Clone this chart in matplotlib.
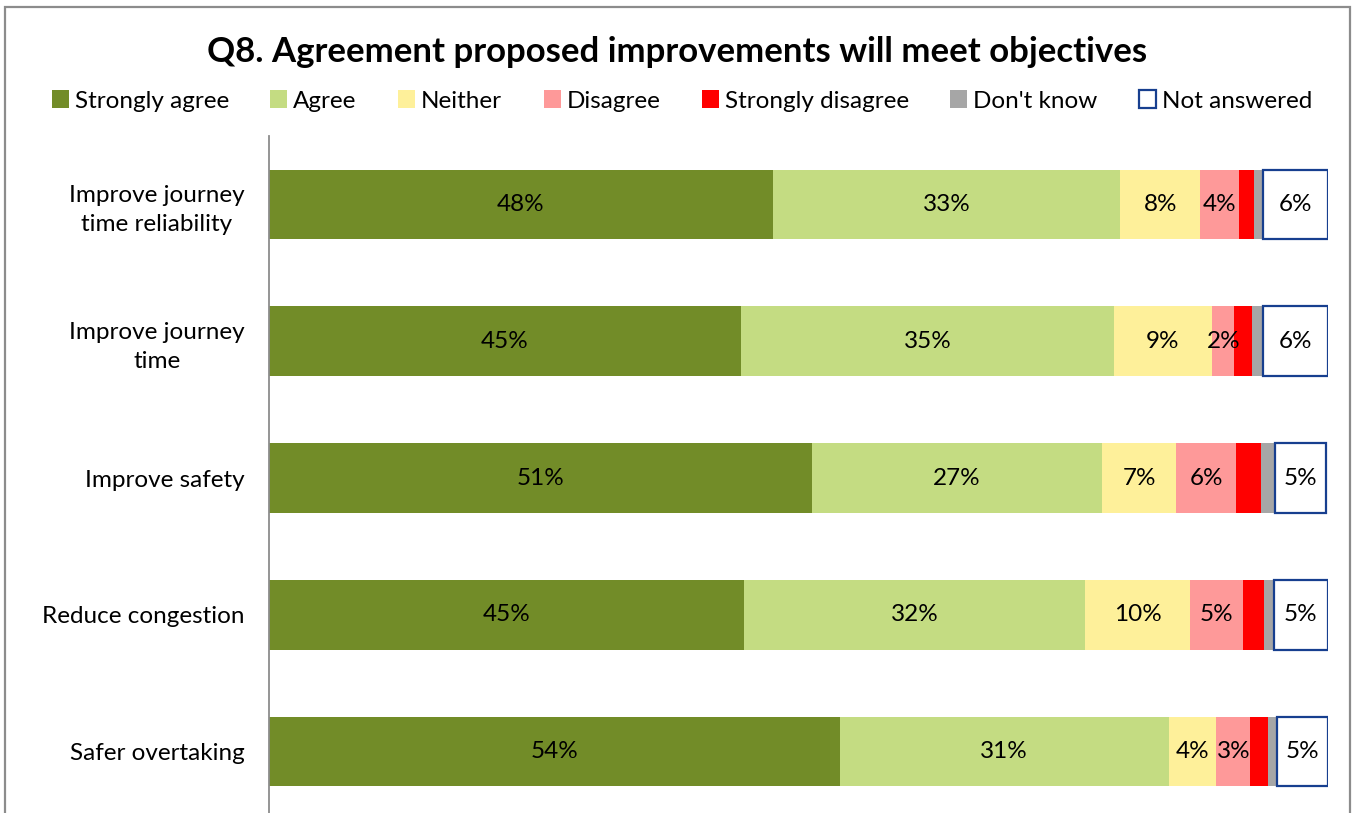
import matplotlib.pyplot as plt
from matplotlib.patches import Rectangle

plt.rcParams['font.family'] = ['Lato', 'DejaVu Sans']

# survey responses, percent of respondents
categories = ['Improve journey\ntime reliability', 'Improve journey\ntime',
              'Improve safety', 'Reduce congestion', 'Safer overtaking']
strongly_agree = [47.6, 44.6, 51.3, 44.9, 53.9]
agree = [32.8, 35.2, 27.4, 32.2, 31.1]
neither = [7.6, 9.3, 7.0, 9.9, 4.5]
disagree = [3.6, 2.1, 5.7, 5.0, 3.2]
strongly_disagree = [1.5, 1.7, 2.3, 2.0, 1.7]
dont_know = [0.8, 1.0, 1.3, 0.9, 0.8]
not_answered = [6.1, 6.1, 4.9, 5.1, 4.8]

series = [
    ('Strongly agree', strongly_agree, '#728C28', True),
    ('Agree', agree, '#C4DC82', True),
    ('Neither', neither, '#FEF09A', True),
    ('Disagree', disagree, '#FE9999', True),
    ('Strongly disagree', strongly_disagree, '#FF0000', False),
    ("Don't know", dont_know, '#A6A6A6', False),
    ('Not answered', not_answered, 'white', True),
]

W, H = 1354, 813
fig = plt.figure(figsize=(W / 100, H / 100), dpi=100)
ax = fig.add_axes([269 / W, -7 / H, (1327.5 - 269) / W, (820 - 136) / H])

ypos = list(range(len(categories)))
left = [0.0] * len(categories)
handles = []
for name, vals, color, show_label in series:
    if name == 'Not answered':
        bars = ax.barh(ypos, vals, left=left, height=0.51, color=color,
                       edgecolor='#173F8F', linewidth=1.6, label=name)
    else:
        bars = ax.barh(ypos, vals, left=left, height=0.51, color=color,
                       linewidth=0, label=name)
    if show_label:
        ax.bar_label(bars, labels=[f'{v:.0f}%' for v in vals],
                     label_type='center', fontsize=17.5, color='black')
    handles.append(bars)
    left = [l + v for l, v in zip(left, vals)]

ax.set_xlim(0, 100)
ax.set_ylim(len(categories) - 0.5, -0.5)
ax.set_yticks(ypos)
ax.set_yticklabels(categories, fontsize=17.5, multialignment='center',
                   linespacing=1.45)
ax.tick_params(axis='y', length=0, pad=17.5)
ax.set_xticks([])
for side in ['top', 'right', 'bottom']:
    ax.spines[side].set_visible(False)
ax.spines['left'].set_color('#8C8C8C')
ax.spines['left'].set_linewidth(1.3)

fig.text(0.5, 1 - 52 / H, 'Q8. Agreement proposed improvements will meet objectives',
         ha='center', va='center', fontsize=25, fontweight='bold')

leg = fig.legend(handles=handles, loc='center', bbox_to_anchor=(682 / W, 1 - 101 / H),
                 ncol=7, frameon=False, fontsize=17.5, handlelength=0.7,
                 handleheight=0.7, handletextpad=0.25, columnspacing=1.7)

# chart-area border, open at the bottom edge
fig.patches.append(Rectangle((4.5 / W, -0.05), (1350 - 4.5) / W, 1.05 - 7.5 / H,
                             transform=fig.transFigure, fill=False,
                             edgecolor='#8C8C8C', linewidth=1.6))

fig.savefig('out.png', dpi=100)
